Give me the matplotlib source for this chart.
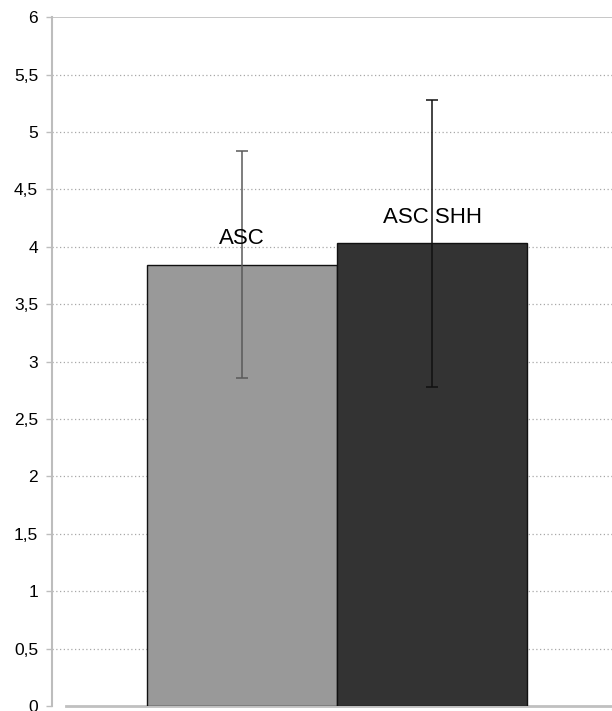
import matplotlib
matplotlib.use("Agg")
import matplotlib.pyplot as plt
from matplotlib.ticker import FixedLocator, FuncFormatter

categories = ["ASC", "ASC SHH"]
means = [3.845, 4.03]
errors = [0.99, 1.25]
colors = ["#999999", "#333333"]
err_colors = ["#5a5a5a", "#111111"]
yticks = [0, 0.5, 1, 1.5, 2, 2.5, 3, 3.5, 4, 4.5, 5, 5.5, 6]

plt.rcParams["font.family"] = ["Liberation Sans", "DejaVu Sans"]

fig = plt.figure(figsize=(6.12, 7.11), dpi=100)
ax = fig.add_axes([52/612, 1 - 706/711, 1 - 52/612, (706 - 17.3)/711])

x = list(range(len(categories)))
ax.bar(x, means, width=1.0, color=colors, edgecolor="#111111", linewidth=1.0, zorder=3)
for xi, m, e, ec in zip(x, means, errors, err_colors):
    ax.errorbar(xi, m, yerr=e, fmt="none", ecolor=ec, elinewidth=1.1,
                capsize=4.5, capthick=1.1, zorder=4)
    ax.annotate(categories[xi], (xi, m), xytext=(0, 18.5), textcoords="offset points",
                ha="center", va="center", fontsize=16, color="black", zorder=5)

ax.set_xlim(-1.0, 1.946)
ax.set_ylim(0, 6)
ax.yaxis.set_major_locator(FixedLocator(yticks))
ax.yaxis.set_major_formatter(FuncFormatter(lambda v, p: ("%g" % v).replace(".", ",")))
ax.set_xticks([])

for v in yticks[1:-1]:
    ax.axhline(v, color="#a8a8a8", linewidth=0.9, linestyle=(0, (1, 2)), zorder=1)
ax.axhline(6, color="#bdbdbd", linewidth=1.2, zorder=1)

for s in ["top", "right", "bottom"]:
    ax.spines[s].set_visible(False)
ax.spines["left"].set_color("#bdbdbd")
ax.spines["left"].set_linewidth(1.5)
ax.plot([14/560, 1], [0, 0], transform=ax.transAxes, color="#c0c0c0",
        linewidth=2.0, clip_on=False, zorder=2)

ax.tick_params(axis="y", length=4, width=1, color="#bdbdbd", pad=6, labelsize=12.5)

fig.savefig("out.png", dpi=100)
